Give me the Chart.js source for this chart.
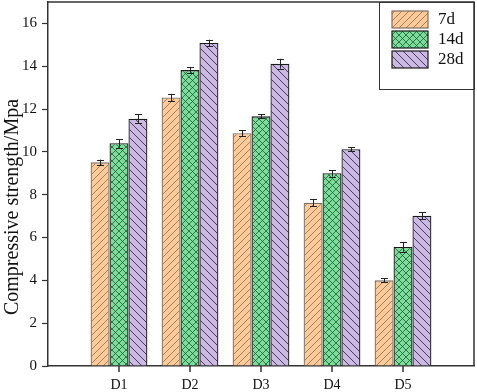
<!DOCTYPE html>
<html>
<head>
<meta charset="utf-8">
<script src="https://cdn.jsdelivr.net/npm/chart.js@4.4.1/dist/chart.umd.min.js"></script>
<style>
html,body{margin:0;padding:0;background:#fff;}
#c{display:block;}
</style>
</head>
<body>
<canvas id="c" width="477" height="392"></canvas>
<script>
const categories = ['D1', 'D2', 'D3', 'D4', 'D5'];
const seriesNames = ['7d', '14d', '28d'];
const values7d  = [9.51, 12.54, 10.87, 7.62, 4.00];
const values14d = [10.40, 13.82, 11.66, 9.00, 5.56];
const values28d = [11.55, 15.09, 14.12, 10.12, 7.02];
const err7d  = [0.13, 0.17, 0.13, 0.16, 0.10];
const err14d = [0.20, 0.13, 0.10, 0.15, 0.22];
const err28d = [0.20, 0.15, 0.23, 0.10, 0.15];
const yTickValues = [0, 2, 4, 6, 8, 10, 12, 14, 16];

function makePattern(bg, lineColor, size, kind, lw) {
  const c = document.createElement('canvas');
  c.width = size; c.height = size;
  const g = c.getContext('2d');
  g.fillStyle = bg; g.fillRect(0, 0, size, size);
  g.strokeStyle = lineColor; g.lineWidth = lw;
  const fwd = () => { g.beginPath(); g.moveTo(-1, size + 1); g.lineTo(size + 1, -1);
    g.moveTo(-1, 1); g.lineTo(1, -1); g.moveTo(size - 1, size + 1); g.lineTo(size + 1, size - 1); g.stroke(); };
  const back = () => { g.beginPath(); g.moveTo(-1, -1); g.lineTo(size + 1, size + 1);
    g.moveTo(size - 1, -1); g.lineTo(size + 1, 1); g.moveTo(-1, size - 1); g.lineTo(1, size + 1); g.stroke(); };
  if (kind === 'fwd') fwd();
  else if (kind === 'back') back();
  else { fwd(); back(); }
  return g.createPattern(c, 'repeat');
}
const ctx = document.getElementById('c').getContext('2d');
const patOrange = makePattern('#FDCB9A', '#9A6A45', 7, 'fwd', 0.8);
const patGreen  = makePattern('#7ADD9A', '#1F5A35', 7, 'cross', 0.8);
const patPurple = makePattern('#CBB9E4', '#3A3050', 8, 'back', 0.9);
const fills = [patOrange, patGreen, patPurple];
const borders = ['#7d6d60', '#1a1a1a', '#1a1a1a'];
const seriesVals = [values7d, values14d, values28d];
const seriesErr = [err7d, err14d, err28d];

const pad = a => [null, ...a, null];
const labels = ['', ...categories, ''];

const FONT = "'Liberation Serif', 'Times New Roman', serif";

const datasets = seriesNames.map((n, i) => ({
  label: n,
  data: pad(seriesVals[i]),
  errs: pad(seriesErr[i]),
  backgroundColor: fills[i],
  borderColor: borders[i],
  borderWidth: 1.3,
  borderSkipped: 'bottom',
  categoryPercentage: 0.8,
  barPercentage: 1.0
}));

const extras = {
  id: 'extras',
  afterDatasetsDraw(chart) {
    const g = chart.ctx;
    const ys = chart.scales.y;
    g.save();
    g.strokeStyle = '#222';
    g.lineWidth = 1;
    chart.data.datasets.forEach((ds, di) => {
      const meta = chart.getDatasetMeta(di);
      meta.data.forEach((el, i) => {
        const v = ds.data[i];
        if (v == null) return;
        const e = ds.errs[i];
        const x = Math.round(el.x) + 0.5;
        const y1 = ys.getPixelForValue(v + e);
        const y0 = ys.getPixelForValue(v - e);
        g.beginPath();
        g.moveTo(x, y0); g.lineTo(x, y1);
        g.moveTo(x - 3.5, Math.round(y1) + 0.5); g.lineTo(x + 3.5, Math.round(y1) + 0.5);
        g.moveTo(x - 3.5, Math.round(y0) + 0.5); g.lineTo(x + 3.5, Math.round(y0) + 0.5);
        g.stroke();
      });
    });
    g.restore();
  },
  afterDraw(chart) {
    const g = chart.ctx;
    const a = chart.chartArea;
    const xs = chart.scales.x;
    g.save();
    // frame top & right
    g.strokeStyle = '#333';
    g.lineWidth = 1.5;
    g.beginPath();
    g.moveTo(a.left, a.top); g.lineTo(a.right, a.top); g.lineTo(a.right, a.bottom);
    g.stroke();
    // x tick marks at category centres
    g.fillStyle = '#333';
    const yb = Math.round(a.bottom);
    for (let i = 1; i <= categories.length; i++) {
      const x = Math.round(xs.getPixelForValue(i));
      g.fillRect(x - 0.75, yb, 1.5, 6);
    }
    // legend
    const lx = 379, ly = a.top, lw = a.right - lx, lh = 87;
    g.lineWidth = 1;
    g.strokeStyle = '#333';
    g.strokeRect(lx + 0.5, ly + 0.5, lw, lh);
    g.font = '17px ' + FONT;
    g.textBaseline = 'middle';
    g.textAlign = 'left';
    seriesNames.forEach((n, i) => {
      const sy = 11 + i * 20;
      g.fillStyle = fills[i];
      g.fillRect(392, sy, 36, 17);
      g.strokeStyle = borders[i];
      g.lineWidth = 1.2;
      g.strokeRect(392, sy, 36, 17);
      g.fillStyle = '#111';
      g.fillText(n, 438, sy + 9);
    });
    // y title
    g.translate(18, 207);
    g.rotate(-Math.PI / 2);
    g.textAlign = 'center';
    g.textBaseline = 'alphabetic';
    g.font = '20px ' + FONT;
    g.fillStyle = '#111';
    g.fillText('Compressive strength/Mpa', 0, 0);
    g.restore();
  }
};

new Chart(ctx, {
  type: 'bar',
  data: { labels, datasets },
  plugins: [extras],
  options: {
    responsive: false,
    animation: false,
    layout: { padding: { top: 2, right: 3, left: 0, bottom: 0 } },
    plugins: { legend: { display: false }, tooltip: { enabled: false } },
    scales: {
      x: {
        offset: false,
        afterFit(s) { s.height = 26; s.paddingLeft = 0; s.paddingRight = 0; },
        grid: { offset: false, drawOnChartArea: false, tickLength: 5, tickColor: 'rgba(0,0,0,0)' },
        border: { color: '#333', width: 1.5 },
        ticks: { autoSkip: false, maxRotation: 0, padding: 6, color: '#111', font: { family: FONT, size: 14 } }
      },
      y: {
        min: 0, max: 17,
        afterFit(s) { s.width = 48; s.paddingTop = 0; s.paddingBottom = 0; },
        afterBuildTicks(s) { s.ticks = yTickValues.map(v => ({ value: v })); },
        grid: { drawOnChartArea: false, tickLength: 6, tickWidth: 1.2, tickColor: '#333' },
        border: { color: '#333', width: 1.5 },
        ticks: { padding: 5, color: '#111', font: { family: FONT, size: 15 } }
      }
    }
  }
});
</script>
</body>
</html>
